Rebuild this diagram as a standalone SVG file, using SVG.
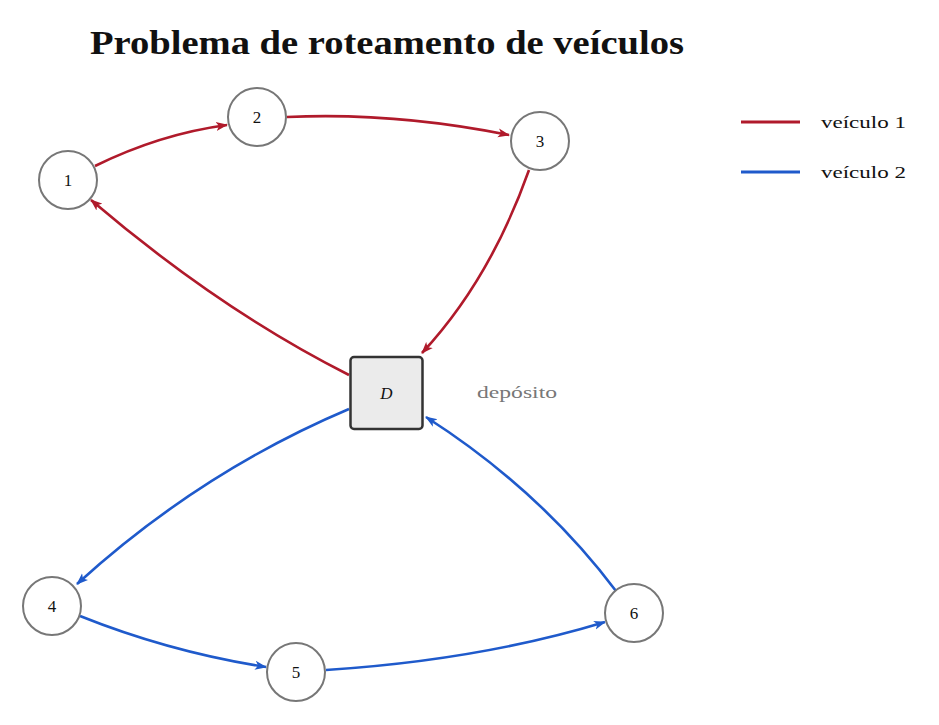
<svg xmlns="http://www.w3.org/2000/svg" width="939" height="725" viewBox="0 0 939 725">
<style>
.node circle{fill:#fff;stroke:#777;stroke-width:2}
.lbl{font-family:"Liberation Serif",serif;font-size:17px;fill:#111;text-anchor:middle}
.r{fill:none;stroke:#b01a2b;stroke-width:2.6}
.b{fill:none;stroke:#1f5acb;stroke-width:2.6}
.leg{font-family:"Liberation Serif",serif;font-size:17px;fill:#111}
</style>
<defs>
<marker id="ar" viewBox="0 0 12 10" refX="11" refY="5" markerWidth="12" markerHeight="10" markerUnits="userSpaceOnUse" orient="auto">
<path d="M0,0.5 L12,5 L0,9.5 L3,5 Z" fill="#b01a2b"/>
</marker>
<marker id="ab" viewBox="0 0 12 10" refX="11" refY="5" markerWidth="12" markerHeight="10" markerUnits="userSpaceOnUse" orient="auto">
<path d="M0,0.5 L12,5 L0,9.5 L3,5 Z" fill="#1f5acb"/>
</marker>
</defs>
<rect width="939" height="725" fill="#fff"/>
<text x="90" y="54" font-family="Liberation Serif,serif" font-weight="bold" font-size="33" textLength="594" lengthAdjust="spacingAndGlyphs" fill="#111">Problema de roteamento de veículos</text>
<g id="edges">
<path class="r" d="M95,166 Q160,134 227,125" marker-end="url(#ar)"/>
<path class="r" d="M287,117 Q395,112 509,135" marker-end="url(#ar)"/>
<path class="r" d="M529,170 Q490,280 422,353" marker-end="url(#ar)"/>
<path class="r" d="M349,375 Q220,310 91,200" marker-end="url(#ar)"/>
<path class="b" d="M349,409 Q200,472 77,584" marker-end="url(#ab)"/>
<path class="b" d="M80,616 Q170,652 266,667" marker-end="url(#ab)"/>
<path class="b" d="M326,670 Q480,660 605,622" marker-end="url(#ab)"/>
<path class="b" d="M616,591 Q540,490 426,417" marker-end="url(#ab)"/>
</g>
<g id="n1" class="node"><circle cx="68" cy="180" r="29"/><text class="lbl" x="68" y="186">1</text></g>
<g id="n2" class="node"><circle cx="257" cy="117" r="29"/><text class="lbl" x="257" y="123">2</text></g>
<g id="n3" class="node"><circle cx="540" cy="141" r="29"/><text class="lbl" x="540" y="147">3</text></g>
<g id="n4" class="node"><circle cx="52" cy="606" r="29"/><text class="lbl" x="52" y="612">4</text></g>
<g id="n5" class="node"><circle cx="296" cy="672" r="29"/><text class="lbl" x="296" y="678">5</text></g>
<g id="n6" class="node"><circle cx="634" cy="613" r="29"/><text class="lbl" x="634" y="619">6</text></g>
<g id="depot">
<rect x="350.5" y="357" width="72" height="72" rx="3.5" fill="#ebebeb" stroke="#333" stroke-width="2.5"/>
<text class="lbl" x="386.5" y="399" font-style="italic">D</text>
<text x="477" y="398" font-family="Liberation Serif,serif" font-size="17" fill="#777" textLength="80" lengthAdjust="spacingAndGlyphs">depósito</text>
</g>
<g id="legend">
<line x1="741" y1="122" x2="800" y2="122" stroke="#b01a2b" stroke-width="3"/>
<text class="leg" x="821" y="128" textLength="85" lengthAdjust="spacingAndGlyphs">veículo 1</text>
<line x1="741" y1="172" x2="800" y2="172" stroke="#1f5acb" stroke-width="3"/>
<text class="leg" x="821" y="178" textLength="85" lengthAdjust="spacingAndGlyphs">veículo 2</text>
</g>
</svg>
